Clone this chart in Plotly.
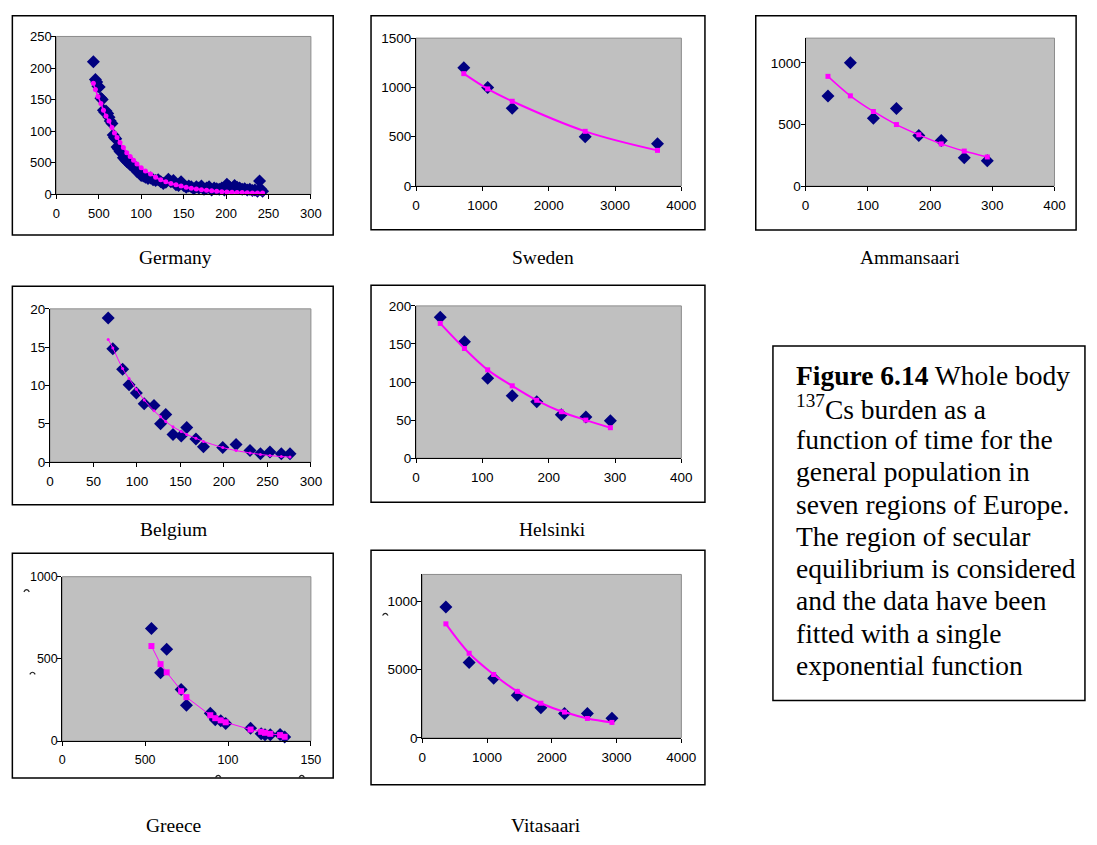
import plotly.graph_objects as go

W, H = 1097, 845

# ---------------- data ----------------
germany_x = [43.6, 46.0, 47.5, 49.0, 50.5, 52.5, 54.0, 55.5, 57.0, 58.5, 60.5, 62.0, 63.5, 65.5,
             67.0, 68.5, 70.0, 71.5, 73.0, 75.0, 77.0, 79.0, 81.0, 83.0, 85.0, 87.0, 89.0, 91.0,
             93.0, 95.0, 97.5, 100.0, 102.5, 105.0, 108.0, 111.0, 114.0, 117.0, 120.0, 123.0,
             126.0, 129.0, 132.0, 135.0, 138.0, 141.0, 144.0, 147.0, 150.0, 153.0, 156.0, 159.0,
             162.0, 165.0, 168.0, 171.0, 174.0, 177.0, 180.0, 183.0, 186.0, 189.0, 192.0, 195.0,
             198.0, 201.0, 204.0, 207.0, 210.0, 213.0, 216.0, 219.0, 222.0, 225.0, 228.0, 231.0,
             234.0, 237.0, 239.5, 241.0, 243.0]
germany_y = [210, 182, 178, 171, 170, 152, 150, 133, 130, 132, 128, 122, 116, 112,
             94, 90, 88, 75, 72, 68, 66, 58, 55, 52, 50, 47, 49, 43,
             40, 36, 34, 30, 29, 27, 25, 26, 23, 22, 23, 20,
             17, 19, 24, 20, 22, 15, 14, 20, 14, 11, 13, 12,
             9, 12, 10, 13, 8, 10, 12, 7, 10, 9, 8, 10,
             7, 16, 12, 9, 14, 11, 10, 8, 9, 7, 8, 6,
             7, 5, 21, 8, 5]
germany_fit_x = [43.6, 46.0, 49.0, 52.5, 55.5, 58.5, 62.0, 65.5, 68.5, 71.5, 75.0, 79.0, 83.0,
                 87.0, 91.0, 95.0, 100.0, 105.0, 111.0, 117.0, 123.0, 129.0, 135.0, 141.0,
                 147.0, 153.0, 159.0, 165.0, 171.0, 177.0, 183.0, 189.0, 195.0, 201.0, 207.0,
                 213.0, 219.0, 225.0, 231.0, 237.0, 243.0]
germany_fit_y = [176, 166, 155, 144, 133, 124, 116, 106, 97, 90, 82, 74, 66,
                 60, 54, 48, 42, 37, 32, 27, 23, 20, 17, 15,
                 13, 11, 9.5, 8.3, 7.2, 6.3, 5.5, 4.8, 4.2, 3.7, 3.3,
                 3.0, 2.7, 2.4, 2.2, 2.0, 1.9]

sweden_x = [720, 1080, 1450, 2550, 3640]
sweden_y = [1200, 1000, 790, 500, 430]
sweden_fit = [1140, 985, 860, 555, 362]

ammansaari_x = [36, 72, 109, 146, 182, 218, 255, 292]
ammansaari_y = [730, 1000, 550, 630, 410, 370, 230, 205]
ammansaari_fit = [890, 732, 605, 499, 416, 342, 284, 236]

belgium_x = [67, 72.3, 83.6, 91, 99.4, 108.4, 119.7, 127.2, 133.2, 141.5, 151, 157.3,
             167.9, 176.5, 198.7, 214, 230, 242, 252.9, 266, 276]
belgium_y = [18.8, 14.8, 12.1, 10.1, 9.0, 7.6, 7.4, 5.0, 6.2, 3.6, 3.4, 4.5,
             3.0, 2.0, 1.9, 2.3, 1.5, 1.1, 1.3, 1.1, 1.1]
belgium_fit = [16.0, 14.9, 12.2, 10.9, 9.5, 8.1, 6.7, 5.9, 5.3, 4.6, 4.0, 3.6,
               3.1, 2.7, 1.9, 1.5, 1.2, 1.0, 0.85, 0.72, 0.65]

helsinki_x = [36.5, 73, 108, 145, 182, 219, 256, 293]
helsinki_y = [185, 153, 105, 82, 74, 57, 54, 49]
helsinki_fit = [177, 144, 116, 95, 76, 61, 50, 40]

greece_x = [538, 593, 630, 717, 749, 893, 923, 956, 986, 1136, 1200, 1223, 1255, 1314, 1342]
greece_y = [6850, 4160, 5580, 3130, 2170, 1690, 1300, 1240, 1060, 780, 440, 380, 380, 400, 240]
greece_fit = [5780, 4680, 4180, 3030, 2670, 1570, 1390, 1260, 1140, 700, 560, 500, 440, 360, 260]

vitasaari_x = [364, 723, 1102, 1466, 1831, 2195, 2549, 2928]
vitasaari_y = [9600, 5540, 4370, 3120, 2210, 1780, 1780, 1440]
vitasaari_fit = [8370, 6210, 4650, 3410, 2540, 1890, 1420, 1130]

# tick values and the tick texts as printed on each chart
germany_xticks = [0, 50, 100, 150, 200, 250, 300]
germany_xtext = ["0", "500", "100", "150", "200", "250", "300"]
germany_yticks = [0, 50, 100, 150, 200, 250]
germany_ytext = ["0", "500", "100", "150", "200", "250"]
greece_xticks = [0, 500, 1000, 1500]
greece_xtext = ["0", "500", "100", "150"]
greece_yticks = [0, 5000, 10000]
greece_ytext = ["0", "500", "1000"]
vitasaari_yticks = [0, 5000, 10000]
vitasaari_ytext = ["0", "5000", "1000"]

region_names = ["Germany", "Sweden", "Ammansaari", "Belgium", "Helsinki", "Greece", "Vitasaari"]

caption_lines = [
    "<b>Figure 6.14</b> Whole body",
    "<sup>137</sup>Cs burden as a",
    "function of time for the",
    "general population in",
    "seven regions of Europe.",
    "The region of secular",
    "equilibrium is considered",
    "and the data have been",
    "fitted with a single",
    "exponential function",
]

# ---------------- styling ----------------
NAVY = "#000080"
MAGENTA = "#FF00FF"
PLOT_GRAY = "#C0C0C0"
SANS = "Liberation Sans, Arial, sans-serif"
SERIF = "Liberation Serif, Times New Roman, serif"

fig = go.Figure()
shapes = []
annotations = []


def px_x(v):
    return v / W


def px_y(v):
    return 1 - v / H


# pixel boxes: plot area (l, t, r, b), outer frame (l, t, r, b), label centre (x, y)
panels = [
    dict(plot=(53.3, 30.0, 312.3, 190.7), frame=(8.5, 9.0, 335.0, 232.0), label=(175, 255),
         xs=germany_x, ys=germany_y, fx=germany_fit_x, fy=germany_fit_y,
         xr=[0, 300], yr=[0, 250], xt=germany_xticks, xtt=germany_xtext,
         yt=germany_yticks, ytt=germany_ytext, fit_marker="circle", fit_size=5, fit_w=1.5,
         shape="spline", fs=13),
    dict(plot=(419.3, 31.7, 689.3, 182.3), frame=(373.5, 9.0, 713.3, 226.7), label=(548, 255),
         xs=sweden_x, ys=sweden_y, fx=sweden_x, fy=sweden_fit,
         xr=[0, 4000], yr=[0, 1500], xt=[0, 1000, 2000, 3000, 4000], xtt=None,
         yt=[0, 500, 1000, 1500], ytt=None, fit_marker="square", fit_size=5, fit_w=2,
         shape="spline", fs=13.5),
    dict(plot=(815.7, 31.7, 1069.0, 182.3), frame=(765.0, 9.0, 1091.0, 227.0), label=(922, 255),
         xs=ammansaari_x, ys=ammansaari_y, fx=ammansaari_x, fy=ammansaari_fit,
         xr=[0, 400], yr=[0, 1200], xt=[0, 100, 200, 300, 400], xtt=None,
         yt=[0, 500, 1000], ytt=None, fit_marker="square", fit_size=5, fit_w=1.5,
         shape="spline", fs=13.5),
    dict(plot=(46.7, 307.3, 312.3, 463.3), frame=(8.5, 284.3, 335.0, 506.7), label=(172, 532),
         xs=belgium_x, ys=belgium_y, fx=belgium_x, fy=belgium_fit,
         xr=[0, 300], yr=[0, 20], xt=[0, 50, 100, 150, 200, 250, 300], xtt=None,
         yt=[0, 5, 10, 15, 20], ytt=None, fit_marker="circle", fit_size=3, fit_w=1,
         shape="spline", fs=13.5),
    dict(plot=(419.3, 304.3, 689.3, 459.3), frame=(373.5, 283.3, 713.3, 504.3), label=(558, 532),
         xs=helsinki_x, ys=helsinki_y, fx=helsinki_x, fy=helsinki_fit,
         xr=[0, 400], yr=[0, 200], xt=[0, 100, 200, 300, 400], xtt=None,
         yt=[0, 50, 100, 150, 200], ytt=None, fit_marker="square", fit_size=5, fit_w=2,
         shape="spline", fs=13.5),
    dict(plot=(59.3, 580.0, 312.3, 747.3), frame=(8.5, 556.0, 335.0, 785.0), label=(172, 833),
         xs=greece_x, ys=greece_y, fx=greece_x, fy=greece_fit,
         xr=[0, 1500], yr=[0, 10000], xt=greece_xticks, xtt=greece_xtext,
         yt=greece_yticks, ytt=greece_ytext, fit_marker="square", fit_size=6, fit_w=1,
         shape="linear", fs=12.5),
    dict(plot=(425.7, 577.7, 689.3, 744.0), frame=(373.5, 553.0, 713.3, 791.7), label=(552, 833),
         xs=vitasaari_x, ys=vitasaari_y, fx=vitasaari_x, fy=vitasaari_fit,
         xr=[0, 4000], yr=[0, 12000], xt=[0, 1000, 2000, 3000, 4000], xtt=None,
         yt=vitasaari_yticks, ytt=vitasaari_ytext, fit_marker="square", fit_size=5, fit_w=2,
         shape="spline", fs=13.5),
]

for i, (p, name) in enumerate(zip(panels, region_names), start=1):
    xa = "x" if i == 1 else f"x{i}"
    ya = "y" if i == 1 else f"y{i}"
    l, t, r, b = p["plot"]

    fig.add_trace(go.Scatter(
        x=p["xs"], y=p["ys"], mode="markers", xaxis=xa, yaxis=ya,
        marker=dict(symbol="diamond", size=10, color=NAVY, line=dict(width=0)),
        showlegend=False, cliponaxis=False))
    fig.add_trace(go.Scatter(
        x=p["fx"], y=p["fy"], mode="lines+markers", xaxis=xa, yaxis=ya,
        line=dict(color=MAGENTA, width=p["fit_w"], shape=p["shape"]),
        marker=dict(symbol=p["fit_marker"], size=p["fit_size"], color=MAGENTA, line=dict(width=0)),
        showlegend=False, cliponaxis=False))

    common = dict(showgrid=False, zeroline=False, showline=True, linecolor="black", linewidth=1,
                  ticks="outside", ticklen=4, tickwidth=1, tickcolor="black",
                  tickfont=dict(family=SANS, size=p["fs"], color="black"), fixedrange=True)
    xax = dict(domain=[px_x(l), px_x(r)], range=p["xr"], anchor=ya, tickmode="array",
               tickvals=p["xt"], ticktext=p["xtt"] if p["xtt"] else [str(v) for v in p["xt"]],
               ticklabelstandoff=3, **common)
    yax = dict(domain=[px_y(b), px_y(t)], range=p["yr"], anchor=xa, tickmode="array",
               tickvals=p["yt"], ticktext=p["ytt"] if p["ytt"] else [str(v) for v in p["yt"]],
               ticklabelstandoff=-3, **common)
    fig.update_layout(**{("xaxis" if i == 1 else f"xaxis{i}"): xax,
                         ("yaxis" if i == 1 else f"yaxis{i}"): yax})

    # thin grey border round the plot area
    shapes.append(dict(type="rect", xref=f"{xa} domain", yref=f"{ya} domain",
                       x0=0, x1=1, y0=0, y1=1, line=dict(color="#8C8C8C", width=1),
                       layer="below"))
    # outer chart frame
    fl, ft, fr, fb = p["frame"]
    shapes.append(dict(type="rect", xref="paper", yref="paper",
                       x0=px_x(fl), x1=px_x(fr), y0=px_y(fb), y1=px_y(ft),
                       line=dict(color="black", width=1.5)))
    # region name under the chart
    lx, ly = p["label"]
    annotations.append(dict(text=name, x=px_x(lx), y=px_y(ly), xref="paper", yref="paper",
                            xanchor="center", yanchor="middle", showarrow=False,
                            font=dict(family=SERIF, size=19.5, color="black")))

# tops of the wrapped second-line zeros that the chart frame cuts off
clipped_zero_tops = [(23, 594), (29, 678), (218, 783), (303, 783), (388, 618)]
for cx, cy in clipped_zero_tops:
    x0, x1 = px_x(cx - 2.8), px_x(cx + 2.8)
    xm = px_x(cx)
    y_lo, y_hi = px_y(cy + 1.5), px_y(cy - 3.0)
    shapes.append(dict(type="path", xref="paper", yref="paper",
                       path=f"M {x0},{y_lo} Q {xm},{y_hi} {x1},{y_lo}",
                       line=dict(color="#222222", width=1.2)))

# caption box
shapes.append(dict(type="rect", xref="paper", yref="paper",
                   x0=px_x(782.5), x1=px_x(1100), y0=px_y(706), y1=px_y(345),
                   line=dict(color="black", width=1.5)))
for k, line in enumerate(caption_lines):
    annotations.append(dict(text=line, x=px_x(804), y=px_y(375 + k * 32.8), xref="paper",
                            yref="paper", xanchor="left", yanchor="middle", showarrow=False,
                            font=dict(family=SERIF, size=27.5, color="black")))

fig.update_layout(
    width=W, height=H, margin=dict(l=0, r=0, t=0, b=0),
    paper_bgcolor="white", plot_bgcolor=PLOT_GRAY,
    shapes=shapes, annotations=annotations, showlegend=False,
)

fig.write_html("out.html", config={"displayModeBar": False})
